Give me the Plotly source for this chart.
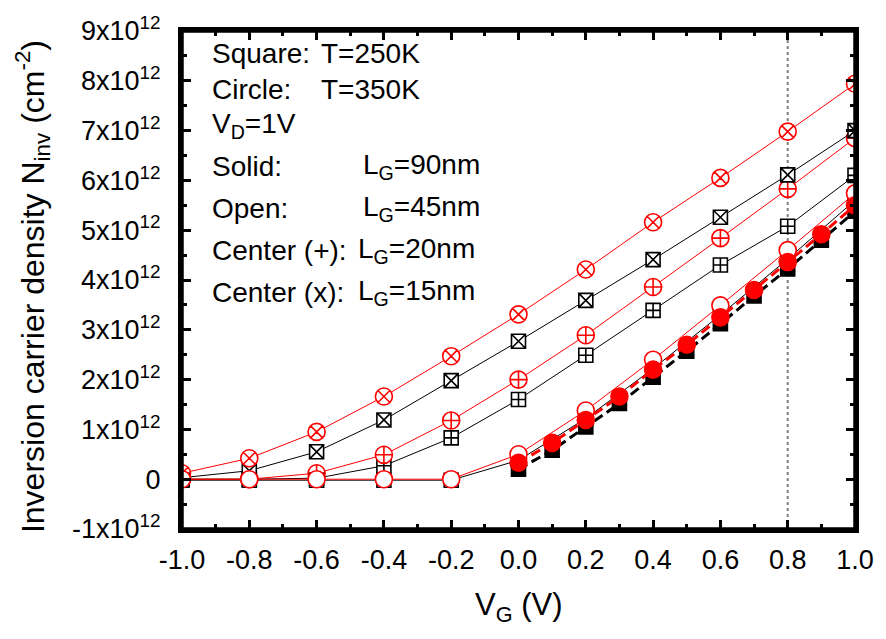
import plotly.graph_objects as go

# Gate voltage grids (V)
VG_COARSE = [-1.0, -0.8, -0.6, -0.4, -0.2, 0.0, 0.2, 0.4, 0.6, 0.8, 1.0]
VG_FINE = [0.0, 0.1, 0.2, 0.3, 0.4, 0.5, 0.6, 0.7, 0.8, 0.9, 1.0]

# Inversion carrier density, in units of 1e12 cm^-2
n_250K_15nm = [0.03, 0.17, 0.55, 1.19, 1.98, 2.77, 3.59, 4.41, 5.26, 6.11, 7.00]
n_350K_15nm = [0.12, 0.42, 0.95, 1.66, 2.47, 3.31, 4.21, 5.16, 6.05, 6.98, 7.94]
n_250K_20nm = [0.00, 0.00, 0.02, 0.27, 0.83, 1.60, 2.49, 3.39, 4.30, 5.08, 6.10]
n_350K_20nm = [0.00, 0.00, 0.12, 0.49, 1.18, 2.00, 2.89, 3.86, 4.84, 5.83, 6.85]
n_250K_45nm = [-0.02, -0.02, -0.02, -0.02, -0.02, 0.38, 1.22, 2.22, 3.30, 4.42, 5.60]
n_350K_45nm = [0.00, 0.00, 0.00, 0.00, 0.00, 0.50, 1.38, 2.40, 3.49, 4.60, 5.74]
n_250K_90nm = [0.20, 0.58, 1.05, 1.52, 2.05, 2.57, 3.12, 3.68, 4.22, 4.80, 5.38]
n_350K_90nm = [0.33, 0.73, 1.19, 1.66, 2.20, 2.70, 3.25, 3.80, 4.36, 4.92, 5.50]

X_TICKS = [-1.0, -0.8, -0.6, -0.4, -0.2, 0.0, 0.2, 0.4, 0.6, 0.8, 1.0]
Y_TICKS = [-1, 0, 1, 2, 3, 4, 5, 6, 7, 8, 9]
Y_TICK_TEXT = ["0" if v == 0 else f"{v}x10<sup>12</sup>" for v in Y_TICKS]
V_MARK = 0.8

FONT = "Liberation Sans, Arial, sans-serif"
RED = "#ff0000"
BLACK = "#000000"

fig = go.Figure()


def add_series(x, y, color, symbol, size, fill, line_width, dash="solid"):
    fig.add_trace(go.Scatter(
        x=x, y=y, mode="lines+markers",
        line=dict(color=color, width=line_width, dash=dash),
        marker=dict(symbol=symbol, size=size, color=fill,
                    line=dict(color=color, width=1.6)),
        showlegend=False,
    ))


# L_G = 20 nm (center +)
add_series(VG_COARSE, n_250K_20nm, BLACK, "square-cross", 14, "white", 1)
add_series(VG_COARSE, n_350K_20nm, RED, "circle-cross", 17, "white", 1)
# L_G = 15 nm (center x)
add_series(VG_COARSE, n_250K_15nm, BLACK, "square-x", 14, "white", 1)
add_series(VG_COARSE, n_350K_15nm, RED, "circle-x", 17, "white", 1)
# L_G = 45 nm (open)
add_series(VG_COARSE, n_250K_45nm, BLACK, "square", 14, "white", 1)
add_series(VG_COARSE, n_350K_45nm, RED, "circle", 17, "white", 1)
# L_G = 90 nm (solid)
add_series(VG_FINE, n_250K_90nm, BLACK, "square", 14, BLACK, 3, "10px,5px")
add_series(VG_FINE, n_350K_90nm, RED, "circle", 17, RED, 3, "10px,5px")

fig.add_shape(type="line", xref="x", yref="paper", x0=V_MARK, x1=V_MARK,
              y0=0, y1=1, layer="below",
              line=dict(color="#7f7f7f", width=2, dash="dot"))
# heavy plot frame
fig.add_shape(type="rect", xref="paper", yref="paper", x0=0, x1=1, y0=0, y1=1,
              layer="above", line=dict(color=BLACK, width=3.5))

axis_common = dict(
    showgrid=False, zeroline=False, showline=True, linewidth=4,
    linecolor=BLACK, mirror="ticks", ticks="inside", ticklen=9,
    tickwidth=3, tickcolor=BLACK,
    tickfont=dict(family=FONT, size=27, color=BLACK),
)

fig.update_xaxes(
    range=[-1, 1], tickvals=X_TICKS,
    ticktext=[f"{v:.1f}" for v in X_TICKS],
    ticklabelstandoff=4,
    minor=dict(ticks="inside", ticklen=5, tickwidth=2.5, dtick=0.1,
               tickcolor=BLACK, showgrid=False),
    **axis_common,
)
fig.update_yaxes(
    range=[-1, 9], tickvals=Y_TICKS, ticktext=Y_TICK_TEXT,
    ticklabelstandoff=12,
    minor=dict(ticks="inside", ticklen=5, tickwidth=2.5, dtick=0.5,
               tickcolor=BLACK, showgrid=False),
    **axis_common,
)

ann_font = dict(family=FONT, size=28, color=BLACK)
annotations = []


def txt(x, y, text, **kw):
    annotations.append(dict(x=x, y=y, xref="paper", yref="paper", text=text,
                            showarrow=False, xanchor="left", yanchor="middle",
                            font=ann_font, **kw))


# Key text
txt(0.042, 0.955, "Square:")
txt(0.204, 0.955, "T=250K")
txt(0.042, 0.883, "Circle:")
txt(0.204, 0.883, "T=350K")
txt(0.042, 0.810, "V<sub>D</sub>=1V")
txt(0.042, 0.728, "Solid:")
txt(0.266, 0.728, "L<sub>G</sub>=90nm")
txt(0.042, 0.643, "Open:")
txt(0.266, 0.643, "L<sub>G</sub>=45nm")
txt(0.042, 0.559, "Center (+):")
txt(0.258, 0.559, "L<sub>G</sub>=20nm")
txt(0.042, 0.474, "Center (x):")
txt(0.258, 0.474, "L<sub>G</sub>=15nm")

# Axis titles
annotations.append(dict(
    x=-0.222, y=0.487, xref="paper", yref="paper",
    text="Inversion carrier density N<sub>inv</sub> (cm<sup>-2</sup>)",
    showarrow=False, textangle=-90, xanchor="center", yanchor="middle",
    font=dict(family=FONT, size=32, color=BLACK)))
annotations.append(dict(
    x=0.5, y=-0.113, xref="paper", yref="paper",
    text="V<sub>G</sub> (V)", showarrow=False,
    xanchor="center", yanchor="top",
    font=dict(family=FONT, size=31, color=BLACK)))

fig.update_layout(
    width=886, height=639,
    margin=dict(l=182, r=25, t=26, b=110),
    paper_bgcolor="white", plot_bgcolor="white",
    annotations=annotations,
    font=dict(family=FONT),
)

fig.write_html("out.html")
